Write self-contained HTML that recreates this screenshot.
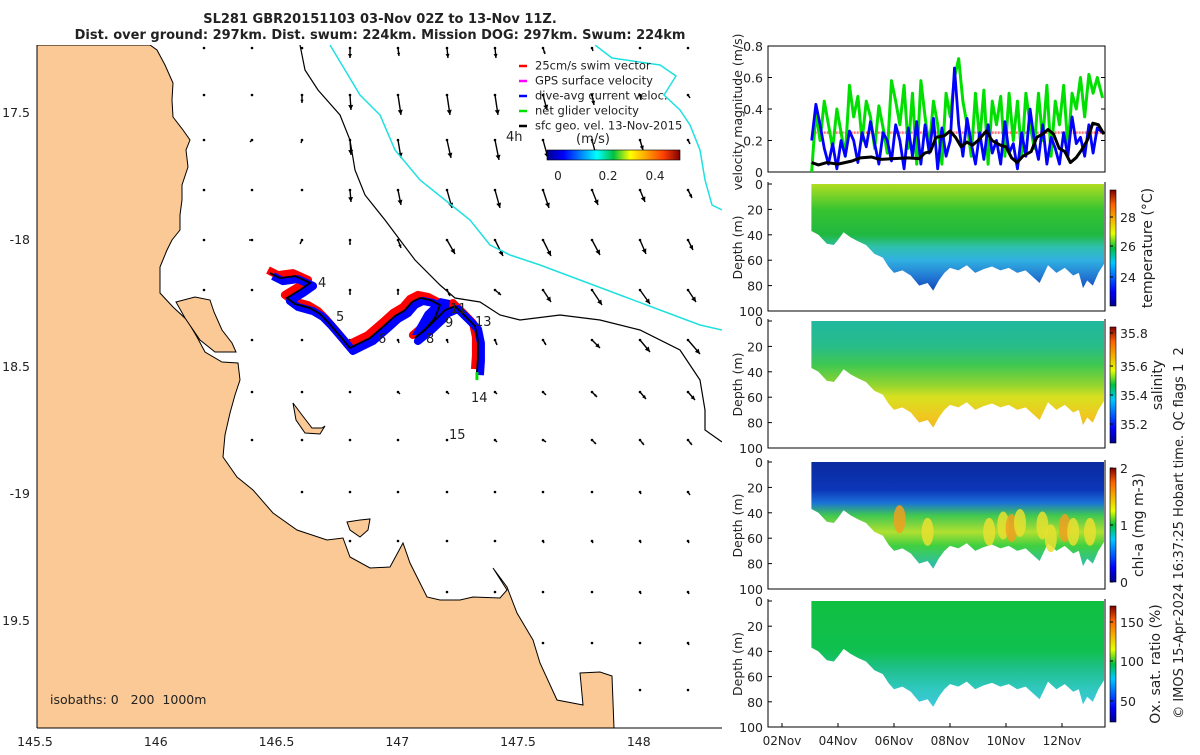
<!DOCTYPE html>
<html><head><meta charset="utf-8"><style>
body{margin:0;background:#fff;width:1200px;height:750px;overflow:hidden;font-family:"Liberation Sans","DejaVu Sans",sans-serif}
svg text{font-family:"DejaVu Sans","Liberation Sans",sans-serif;fill:#222;white-space:pre}
</style></head><body>
<svg id="fig" width="1200" height="750" viewBox="0 0 1200 750" xmlns="http://www.w3.org/2000/svg">
<defs>
<linearGradient id="jet" x1="0" x2="1" y1="0" y2="0">
<stop offset="0" stop-color="#00008f"/><stop offset="0.125" stop-color="#0000ff"/><stop offset="0.375" stop-color="#00ffff"/><stop offset="0.5" stop-color="#00c040"/><stop offset="0.625" stop-color="#ffff00"/><stop offset="0.875" stop-color="#ff4000"/><stop offset="1" stop-color="#800000"/></linearGradient>
<linearGradient id="jetv" x1="0" x2="0" y1="1" y2="0">
<stop offset="0" stop-color="#00008f"/><stop offset="0.125" stop-color="#0000ff"/><stop offset="0.375" stop-color="#00c8ff"/><stop offset="0.5" stop-color="#00c040"/><stop offset="0.625" stop-color="#e8ff00"/><stop offset="0.875" stop-color="#ff6000"/><stop offset="1" stop-color="#800000"/></linearGradient>
<linearGradient id="gTemp" x1="0" x2="0" y1="0" y2="1">
<stop offset="0" stop-color="#b0dc20"/><stop offset="0.08" stop-color="#80d428"/><stop offset="0.2" stop-color="#38c430"/><stop offset="0.4" stop-color="#20b840"/><stop offset="0.5" stop-color="#30c0b0"/><stop offset="0.6" stop-color="#30b0e0"/><stop offset="0.75" stop-color="#2070d0"/><stop offset="0.85" stop-color="#1040b0"/><stop offset="1" stop-color="#102080"/></linearGradient>
<linearGradient id="gSal" x1="0" x2="0" y1="0" y2="1">
<stop offset="0" stop-color="#20b8a0"/><stop offset="0.2" stop-color="#28bc88"/><stop offset="0.35" stop-color="#40c850"/><stop offset="0.5" stop-color="#90d430"/><stop offset="0.6" stop-color="#d8e020"/><stop offset="0.75" stop-color="#f0c820"/><stop offset="1" stop-color="#f0a020"/></linearGradient>
<linearGradient id="gChl" x1="0" x2="0" y1="0" y2="1">
<stop offset="0" stop-color="#0a2aa0"/><stop offset="0.22" stop-color="#0c36b8"/><stop offset="0.32" stop-color="#1a70d8"/><stop offset="0.42" stop-color="#40c850"/><stop offset="0.55" stop-color="#b0e030"/><stop offset="0.66" stop-color="#40d040"/><stop offset="0.8" stop-color="#30c0a0"/><stop offset="1" stop-color="#30a0d0"/></linearGradient>
<linearGradient id="gOx" x1="0" x2="0" y1="0" y2="1">
<stop offset="0" stop-color="#10c040"/><stop offset="0.4" stop-color="#10c050"/><stop offset="0.55" stop-color="#20c090"/><stop offset="0.7" stop-color="#30c8c0"/><stop offset="0.85" stop-color="#40c8e0"/><stop offset="1" stop-color="#40b8e8"/></linearGradient>
<clipPath id="mapclip"><rect x="37" y="45" width="685" height="683"/></clipPath>
</defs>
<text x="380" y="23" text-anchor="middle" font-size="13" font-weight="bold">SL281 GBR20151103 03-Nov 02Z to 13-Nov 11Z.</text>
<text x="380" y="39" text-anchor="middle" font-size="13" font-weight="bold">Dist. over ground: 297km. Dist. swum: 224km. Mission DOG: 297km. Swum: 224km</text>
<g id="map" clip-path="url(#mapclip)"></g>
<g id="mapaxes"></g>
<g id="right"></g>
</svg>
<script>
// ---------- data ----------
const vT = [3.06,3.21,3.36,3.51,3.66,3.81,3.96,4.11,4.26,4.41,4.56,4.71,4.86,5.01,5.16,5.31,5.46,5.61,5.76,5.91,6.06,6.21,6.36,6.51,6.66,6.81,6.96,7.11,7.26,7.41,7.56,7.71,7.86,8.01,8.16,8.31,8.46,8.61,8.76,8.91,9.06,9.21,9.36,9.51,9.66,9.81,9.96,10.11,10.26,10.41,10.56,10.71,10.86,11.01,11.16,11.31,11.46,11.61,11.76,11.91,12.06,12.21,12.36,12.51,12.66,12.81,12.96,13.11,13.26,13.45];
const netGlider = [0.0,0.38,0.2,0.45,0.3,0.15,0.4,0.25,0.1,0.55,0.35,0.48,0.2,0.45,0.35,0.15,0.42,0.28,0.12,0.58,0.45,0.3,0.55,0.15,0.5,0.05,0.58,0.35,0.15,0.45,0.3,0.05,0.5,0.35,0.6,0.72,0.45,0.3,0.1,0.5,0.2,0.52,0.05,0.45,0.3,0.48,0.1,0.5,0.2,0.45,0.1,0.5,0.3,0.15,0.5,0.2,0.55,0.1,0.45,0.3,0.55,0.15,0.5,0.4,0.6,0.35,0.62,0.5,0.6,0.47];
const diveAvg = [0.2,0.43,0.3,0.15,0.05,0.18,0.02,0.2,0.1,0.26,0.2,0.06,0.25,0.16,0.32,0.18,0.05,0.25,0.2,0.07,0.3,0.2,0.02,0.28,0.1,0.32,0.05,0.3,0.12,0.34,0.02,0.28,0.1,0.2,0.66,0.3,0.1,0.34,0.18,0.05,0.25,0.08,0.3,0.12,0.2,0.05,0.32,0.12,0.18,0.02,0.25,0.1,0.4,0.2,0.08,0.3,0.05,0.22,0.15,0.05,0.25,0.1,0.35,0.18,0.22,0.1,0.3,0.12,0.28,0.25];
const geoT = [3.06,3.3,3.6,4.0,4.5,4.8,5.2,5.5,6.0,6.5,6.9,7.1,7.3,7.5,7.8,8.0,8.2,8.4,8.6,8.8,9.0,9.3,9.5,9.8,10.0,10.2,10.4,10.6,10.9,11.1,11.3,11.5,11.7,11.9,12.1,12.3,12.5,12.7,12.9,13.1,13.3,13.5];
const geoVel = [0.06,0.045,0.06,0.05,0.07,0.09,0.095,0.08,0.085,0.09,0.085,0.12,0.13,0.22,0.23,0.26,0.22,0.16,0.19,0.17,0.2,0.26,0.2,0.17,0.16,0.09,0.06,0.1,0.13,0.22,0.24,0.27,0.24,0.15,0.13,0.06,0.09,0.14,0.2,0.31,0.3,0.24];
const swimSpeed = 0.25;
const velTicks = [0,0.2,0.4,0.6,0.8];
const depthTicks = [0,20,40,60,80,100];
const dateTicks = [2,4,6,8,10,12];
const dateLabels = ["02Nov","04Nov","06Nov","08Nov","10Nov","12Nov"];
const bDay = [3.05,3.3,3.6,3.85,4.0,4.2,4.45,4.7,5.0,5.3,5.6,5.8,6.0,6.3,6.6,6.9,7.2,7.4,7.6,7.8,8.0,8.3,8.6,8.9,9.2,9.5,9.8,10.1,10.4,10.7,11.0,11.2,11.5,11.8,12.1,12.4,12.6,12.75,12.9,13.1,13.3,13.5];
const bDepth = [37,40,47,48,44,38,42,45,48,55,58,65,70,68,72,80,78,84,76,70,66,68,64,70,67,65,68,66,70,68,74,78,64,70,66,72,70,82,76,80,70,63];
const chlBlobDay = [6.2,7.2,9.4,9.9,10.2,10.5,11.3,11.6,12.1,12.4,13.0];
const chlBlobDepth = [45,55,55,50,52,48,50,60,52,55,55];
const chlBlobVal = [1.6,1.3,1.3,1.5,1.8,1.4,1.5,1.3,1.6,1.4,1.3];
const trackLon = [146.473,146.514,146.577,146.639,146.597,146.543,146.577,146.639,146.680,146.713,146.763,146.804,146.837,146.887,146.949,146.991,147.032,147.061,147.094,147.136,147.177,147.156,147.115,147.073,147.136,147.198,147.239,147.281,147.322,147.334,147.334,147.330];
const trackLat = [-18.134,-18.154,-18.146,-18.173,-18.201,-18.232,-18.256,-18.272,-18.295,-18.327,-18.382,-18.429,-18.413,-18.390,-18.339,-18.303,-18.280,-18.248,-18.232,-18.240,-18.260,-18.311,-18.358,-18.390,-18.339,-18.280,-18.264,-18.303,-18.343,-18.398,-18.469,-18.524];
const lonTicks = [145.5,146,146.5,147,147.5,148];
const latTicks = [-17.5,-18,-18.5,-19,-19.5];
const latLabels = ["17.5","-18","18.5","-19","19.5"];
const quivU = [
[0,0,0,0,1,1,1,2,1,1,1],[0,0,0,1,3,3,3,4,2,1,2],[0,-2,-1,1,3,4,4,5,4,3,2],[0,0,0,1,3,5,5,6,6,5,4],
[0,-3,-2,0,3,8,8,8,8,6,5],[0,0,0,0,0,3,6,8,10,10,8],[0,0,0,0,1,1,2,3,8,10,12],[0,0,0,1,2,2,2,3,5,6,7],
[0,0,0,0,1,1,2,3,4,4,4],[0,0,0,0,1,1,1,1,1,1,2],[0,0,0,0,0,1,1,1,1,1,1],[0,0,0,0,0,0,1,1,1,1,1],
[0,0,0,0,0,0,0,0,1,1,1],[0,0,0,0,0,0,0,0,0,1,1]];
const quivV = [
[0.5,0.5,1,10,8,10,10,6,3,1,1],[1,1,8,15,20,20,20,15,10,5,3],[1,2,3,15,18,18,20,18,15,10,4],[1,1,2,12,15,18,18,18,15,12,8],
[0,0,4,5,8,14,16,16,15,14,10],[0,0,1,5,5,6,5,12,15,14,12],[0,0,1,3,3,3,5,5,8,12,14],[0,0,1,1,2,2,2,3,5,7,8],
[0,0,0,1,1,1,2,2,4,5,5],[0,0,0,1,1,1,1,1,1,2,3],[0,0,0,0,1,1,1,2,2,2,2],[0,0,0,0,0,0,1,1,1,2,2],
[0,0,0,0,0,0,0,0,1,1,2],[0,0,0,0,0,0,0,0,0,1,1]];
// ---------- helpers ----------
const NS="http://www.w3.org/2000/svg";
function mk(tag,attrs,parent){const e=document.createElementNS(NS,tag);for(const k in attrs)e.setAttribute(k,attrs[k]);parent.appendChild(e);return e;}
function tx(parent,x,y,s,fs,anchor,extra){const e=mk('text',Object.assign({x:x,y:y,'font-size':fs,'text-anchor':anchor||'start'},extra||{}),parent);e.textContent=s;return e;}
const lonX=l=>35+(l-145.5)*241.5, latY=l=>112+(-17.5-l)*254;
const dX=d=>782+(d-2)*28;
// ---------- map ----------
const map=document.getElementById('map');
const qRows=[48,95,140,190,240,290,340,392,440,492,541,592,643,690];
const qCols=[204,252,302,350,398,447,495,543,592,640,688];
for(let r=0;r<quivU.length;r++)for(let c=0;c<qCols.length;c++){
 const x=qCols[c],y=qRows[r],u=quivU[r][c],v=quivV[r][c];
 const g=mk('g',{},map);
 
 
 mk('circle',{cx:x,cy:y,r:1.3,fill:'#000'},g);
 const L=Math.hypot(u,v);
 if(L>2){mk('line',{x1:x,y1:y,x2:x+u,y2:y+v,stroke:'#000','stroke-width':1.4},g);
  const ux=u/L,uy=v/L,h=Math.min(5,L*0.4);
  mk('polygon',{points:`${x+u},${y+v} ${x+u-ux*h-uy*h*0.5},${y+v-uy*h+ux*h*0.5} ${x+u-ux*h+uy*h*0.5},${y+v-uy*h-ux*h*0.5}`,fill:'#000'},g);}
}
const iso200=mk('polyline',{points:"300,45 305,70 318,90 340,115 350,140 355,170 365,195 385,220 415,260 440,285 455,298 480,302 500,315 520,320 560,315 600,320 640,330 680,350 700,380 705,410 705,430 722,442",fill:'none',stroke:'#000','stroke-width':1.2},map);

const iso1000=mk('polyline',{points:"330,45 345,70 360,95 380,115 395,150 420,180 445,200 470,220 490,245 510,255 540,265 580,280 620,295 660,310 700,325 722,330",fill:'none',stroke:'#20e0e0','stroke-width':1.5},map);

const iso1000b=mk('polyline',{points:"595,45 612,58 660,65 676,76 664,95 680,110 690,125 700,150 705,180 712,205 722,210",fill:'none',stroke:'#20e0e0','stroke-width':1.5},map);

const land=mk('polygon',{points:"37,45 150,45 157,50 165,65 173,83 172,100 173,117 183,130 190,140 186,150 188,167 182,185 182,200 180,215 180,230 172,240 167,250 160,267 160,293 173,307 187,320 197,337 205,352 222,362 238,363 240,380 235,395 230,413 225,435 223,457 237,477 253,490 273,513 297,530 327,540 343,538 350,557 370,568 390,567 403,543 410,563 427,597 440,600 460,600 473,597 500,598 507,590 493,568 507,587 517,613 533,640 540,663 557,700 583,705 580,673 600,672 612,676 614,728 37,728",fill:'#fbc995',stroke:'#000','stroke-width':1},map);

[["176,302 195,297 210,300 214,312 222,330 232,343 236,352 215,352 200,340 185,318","island-hinchinbrook"],
 ["293,403 302,415 312,428 322,428 325,426 320,434 305,433 296,420","island-palm"],
 ["347,522 360,520 370,519 368,530 360,537 350,530","island-magnetic"]].forEach(p=>{
 const e=mk('polygon',{points:p[0],fill:'#fbc995',stroke:'#000','stroke-width':1},map);
 });
const tp=(dx,dy)=>trackLon.map((l,i)=>(lonX(l)+dx)+','+(latY(trackLat[i])+dy)).join(' ');
const sw=mk('polyline',{points:tp(-2,-3),fill:'none',stroke:'#ff0000','stroke-width':8,'stroke-linejoin':'round'},map);

const da=mk('polyline',{points:tp(3,3),fill:'none',stroke:'#0000ff','stroke-width':8,'stroke-linejoin':'round'},map);

const lp=mk('polygon',{points:"412,335 425,312 440,298 450,300 448,320 432,335",fill:'#0000ff'},map);

const tr=mk('polyline',{points:tp(0,0),fill:'none',stroke:'#000','stroke-width':1.8},map);

const last=trackLon.length-1;
const ng=mk('line',{x1:lonX(trackLon[last]),y1:latY(trackLat[last]),x2:lonX(trackLon[last]),y2:latY(trackLat[last])+8,stroke:'#00e000','stroke-width':3},map);

[["4",318,287],["5",336,321],["6",378,343],["8",426,343],["9",445,327],["11",450,313],["13",475,326],["14",471,402],["15",449,439],["4h",506,141]].forEach(l=>{
 const e=tx(map,l[1],l[2],l[0],13);});
const iso=tx(map,50,704,"isobaths: 0   200  1000m",12.5);
// legend
const leg=[["#ff0000","25cm/s swim vector"],["#ff00ff","GPS surface velocity"],["#0000ff","dive-avg current veloc."],["#00e000","net glider velocity"],["#000000","sfc geo. vel. 13-Nov-2015"]];
leg.forEach((l,i)=>{const g=mk('g',{},map);
 
 mk('line',{x1:519,y1:66+i*15,x2:527,y2:66+i*15,stroke:l[0],'stroke-width':2.5},g);
 tx(g,535,66+i*15,l[1],11.5,'start',{'dominant-baseline':'middle'});});
const cbm=mk('rect',{x:547,y:150,width:133,height:10,fill:'url(#jet)',stroke:'#000','stroke-width':0.6},map);

tx(map,593,143,"(m/s)",13,'middle');
[["0",558],["0.2",608],["0.4",655]].forEach(t=>tx(map,t[1],180,t[0],12,'middle'));
// map axes
const ma=document.getElementById('mapaxes');
mk('line',{x1:37,y1:45,x2:37,y2:728,stroke:'#000','stroke-width':1},ma);
mk('line',{x1:37,y1:728,x2:722,y2:728,stroke:'#000','stroke-width':1},ma);
lonTicks.forEach(l=>{const e=tx(ma,lonX(l),746,String(l),12.5,'middle');});
latTicks.forEach((l,i)=>{const e=tx(ma,30,latY(l)+5,latLabels[i],12.5,'end');});
// ---------- right panels ----------
const R=document.getElementById('right');
const X0=768,X1=1105;
function frame(y0,y1,nm){const e=mk('path',{d:`M${X0},${y0} L${X0},${y1} L${X1},${y1} L${X1},${y0}`,fill:'none',stroke:'#000','stroke-width':1},R);}
const vy0=172,vh=126, vY=v=>vy0-v/0.8*vh;
const vx=mk('path',{d:`M${X0},46 L${X0},${vy0} L${X1},${vy0} L${X1},46 Z`,fill:'none',stroke:'#000','stroke-width':1},R);

velTicks.forEach(v=>{tx(R,763,vY(v)+5,String(v),12.5,'end');mk('line',{x1:X0,y1:vY(v),x2:X0+4,y2:vY(v),stroke:'#000'},R);mk('line',{x1:X1,y1:vY(v),x2:X1-4,y2:vY(v),stroke:'#000'},R);});
tx(R,0,0,"velocity magnitude (m/s)",12.5,'middle',{transform:`translate(742,112) rotate(-90)`});
function series(t,v,col,w,nm){const e=mk('polyline',{points:t.map((d,i)=>dX(d)+','+vY(v[i])).join(' '),fill:'none',stroke:col,'stroke-width':w,'stroke-linejoin':'round'},R);}
const sl=mk('line',{x1:dX(vT[0]),y1:vY(swimSpeed),x2:dX(vT[vT.length-1]),y2:vY(swimSpeed),stroke:'#ff7070','stroke-width':2.5,'stroke-dasharray':'2 1'},R);

series(vT,netGlider,'#00e000',3,'net-glider-velocity-line');
series(vT,diveAvg,'#0000ff',2.8,'dive-avg-current-line');
series(geoT,geoVel,'#000',3,'geostrophic-velocity-line');
const panels=[
 {y0:184,h:127,grad:'gTemp',nm:'temperature',label:'temperature (°C)',lx:1152,cb:[190,306],ticks:[[24,277],[26,246],[28,217]]},
 {y0:321,h:127,grad:'gSal',nm:'salinity',label:'salinity',lx:1162,cb:[327,443],ticks:[[35.2,424],[35.4,395],[35.6,366],[35.8,333]]},
 {y0:462,h:127,grad:'gChl',nm:'chlorophyll',label:'chl-a (mg m-3)',lx:1143,cb:[468,582],ticks:[[0,582],[1,525],[2,468]]},
 {y0:601,h:126,grad:'gOx',nm:'oxygen',label:'Ox. sat. ratio (%)',lx:1160,cb:[606,722],ticks:[[50,701],[100,661],[150,622]]}];
panels.forEach((p,pi)=>{
 const gr=document.getElementById(p.grad);gr.setAttribute('gradientUnits','userSpaceOnUse');gr.setAttribute('x1',0);gr.setAttribute('x2',0);gr.setAttribute('y1',p.y0);gr.setAttribute('y2',p.y0+p.h);
 const dY=d=>p.y0+d/100*p.h;
 const g=mk('g',{},R);
 
 
 const pts=[dX(bDay[0])+','+dY(0)];
 bDay.forEach((d,i)=>pts.push(dX(d)+','+dY(bDepth[i])));
 pts.push(dX(bDay[bDay.length-1])+','+dY(0));
 mk('polygon',{points:pts.join(' '),fill:`url(#${p.grad})`},g);
 if(pi===2){chlBlobDay.forEach((d,i)=>{const b=mk('ellipse',{cx:dX(d),cy:dY(chlBlobDepth[i]),rx:6,ry:14,fill:chlBlobVal[i]>1.5?'#f0a020':'#e8e030',opacity:0.85},g);
   });}
 frame(p.y0-2,p.y0+p.h,p.nm+'-panel-frame');
 depthTicks.forEach(d=>{tx(R,763,dY(d)+5,String(d),12.5,'end');mk('line',{x1:X0,y1:dY(d),x2:X0+4,y2:dY(d),stroke:'#000'},R);});
 tx(R,0,0,"Depth (m)",12.5,'middle',{transform:`translate(742,${p.y0+p.h/2}) rotate(-90)`});
 const cb=mk('rect',{x:1110,y:p.cb[0],width:6,height:p.cb[1]-p.cb[0],fill:'url(#jetv)',stroke:'#000','stroke-width':0.6},R);
 
 p.ticks.forEach(t=>{tx(R,1120,t[1]+5,String(t[0]),12.5,'start');mk('line',{x1:1110,y1:t[1],x2:1113,y2:t[1],stroke:'#000'},R);});
 tx(R,0,0,p.label,14,'middle',{transform:`translate(${p.lx},${p.cb[0]+(p.cb[1]-p.cb[0])/2}) rotate(-90)`});
});
dateTicks.forEach((d,i)=>{mk('line',{x1:dX(d),y1:727,x2:dX(d),y2:723,stroke:'#000'},R);const e=tx(R,dX(d),745,dateLabels[i],12,'middle');});
const im=tx(R,0,0,"© IMOS 15-Apr-2024 16:37:25 Hobart time. QC flags 1  2",13,'middle',{transform:'translate(1183,533) rotate(-90)'});

</script>
</body></html>
